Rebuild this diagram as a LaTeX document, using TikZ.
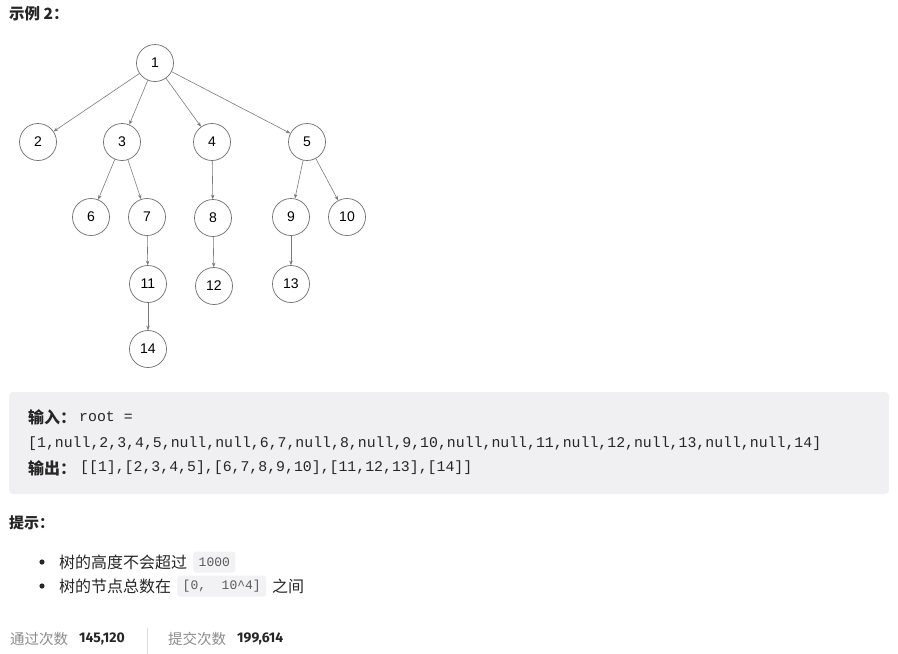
\documentclass[tikz,border=0pt]{standalone}
\usepackage{fontspec}
\setmainfont{Liberation Sans}
\newfontfamily\cjk{Noto Sans CJK SC}
\newfontfamily\codefont{Liberation Mono}
\newfontfamily\numfont{Fira Sans}
\usetikzlibrary{arrows.meta}
\definecolor{txtdark}{HTML}{262626}
\definecolor{circgray}{HTML}{6E6E6E}
\definecolor{edgegray}{HTML}{7A7A7A}
\definecolor{boxgray}{HTML}{F0F0F2}
\definecolor{codegray}{HTML}{F2F2F4}
\definecolor{codetext}{HTML}{5A5A5A}
\definecolor{footgray}{HTML}{8C8C8C}
\definecolor{sepgray}{HTML}{DCDCDC}

\begin{document}
\begin{tikzpicture}[x=1pt, y=-1pt]
\tikzset{vertex/.style = {shape=circle, draw=circgray, line width=0.7pt, minimum size=37pt, inner sep=0pt, text=black, font=\fontsize{14}{14}\selectfont}}
    \tikzset{edge/.style = {draw=edgegray, line width=0.6pt, -{Stealth[length=4.5pt, width=3.5pt]}}}
    \tikzset{txt/.style = {anchor=west, inner sep=0pt, text=txtdark}}
    \tikzset{codebox/.style = {anchor=west, fill=codegray, rounded corners=3pt, inner xsep=5.5pt, minimum height=21pt, text=codetext, font=\codefont\fontsize{13}{13}\selectfont}}
\useasboundingbox (0,0) rectangle (898,654);
\fill[white] (0,0) rectangle (898,654);

% title
\node[txt, font=\cjk\bfseries\fontsize{15.5}{15.5}\selectfont] (title) at (9,14) {示例 2：};

% the tree
\node[vertex] (n1) at (155,63){1};
\node[vertex] (n2) at (38,142){2};
\node[vertex] (n3) at (122,142){3};
\node[vertex] (n4) at (212,142){4};
\node[vertex] (n5) at (307,142){5};
\node[vertex] (n6) at (91,217){6};
\node[vertex] (n7) at (147,217){7};
\node[vertex] (n8) at (213,218){8};
\node[vertex] (n9) at (291,217){9};
\node[vertex] (n10) at (347,217){10};
\node[vertex] (n11) at (148,284){11};
\node[vertex] (n12) at (214,286){12};
\node[vertex] (n13) at (291,284){13};
\node[vertex] (n14) at (148,349){14};

\draw[edge] (n1) -- (n2);
\draw[edge] (n1) -- (n3);
\draw[edge] (n1) -- (n4);
\draw[edge] (n1) -- (n5);
\draw[edge] (n3) -- (n6);
\draw[edge] (n3) -- (n7);
\draw[edge] (n4) -- (n8);
\draw[edge] (n5) -- (n9);
\draw[edge] (n5) -- (n10);
\draw[edge] (n7) -- (n11);
\draw[edge] (n8) -- (n12);
\draw[edge] (n9) -- (n13);
\draw[edge] (n11) -- (n14);

% example box
\fill[boxgray, rounded corners=4pt] (9,392) rectangle (889,494);
\node[txt, font=\cjk\bfseries\fontsize{16}{16}\selectfont] (inlab) at (28,417) {输入：};
\node[txt, font=\codefont\fontsize{14.85}{15}\selectfont] (inroot) at (79,417) {root =};
\node[txt, font=\codefont\fontsize{14.85}{15}\selectfont] (inarr) at (28,444) {[1,null,2,3,4,5,null,null,6,7,null,8,null,9,10,null,null,11,null,12,null,13,null,null,14]};
\node[txt, font=\cjk\bfseries\fontsize{16}{16}\selectfont] (outlab) at (28,468) {输出：};
\node[txt, font=\codefont\fontsize{14.85}{15}\selectfont] (outarr) at (80,468) {[[1],[2,3,4,5],[6,7,8,9,10],[11,12,13],[14]]};

% hints
\node[txt, font=\cjk\bfseries\fontsize{15}{15}\selectfont] (hint) at (9,523) {提示：};
\fill[txtdark] (42,562) circle[radius=2.6];
\fill[txtdark] (42,586) circle[radius=2.6];
\node[txt, font=\cjk\fontsize{16}{16}\selectfont] (hintA) at (59,562) {树的高度不会超过};
\node[codebox] (codeA) at (193,562) {1000};
\node[txt, font=\cjk\fontsize{16}{16}\selectfont] (hintB) at (59,586) {树的节点总数在};
\node[codebox] (codeB) at (177,586) {[0,\ \ 10\textasciicircum 4]};
\node[txt, font=\cjk\fontsize{16}{16}\selectfont] (hintC) at (272,586) {之间};

% footer
\node[txt, font=\cjk\fontsize{14.5}{14.5}\selectfont, text=footgray] (passlab) at (10,639) {通过次数};
\node[txt, font=\numfont\bfseries\fontsize{14}{14}\selectfont] (passnum) at (79,639) {145,120};
\draw[sepgray, line width=1pt] (147,628) -- (147,654);
\node[txt, font=\cjk\fontsize{14.5}{14.5}\selectfont, text=footgray] (sublab) at (168,639) {提交次数};
\node[txt, font=\numfont\bfseries\fontsize{14}{14}\selectfont] (subnum) at (237,639) {199,614};
\end{tikzpicture}
\end{document}
